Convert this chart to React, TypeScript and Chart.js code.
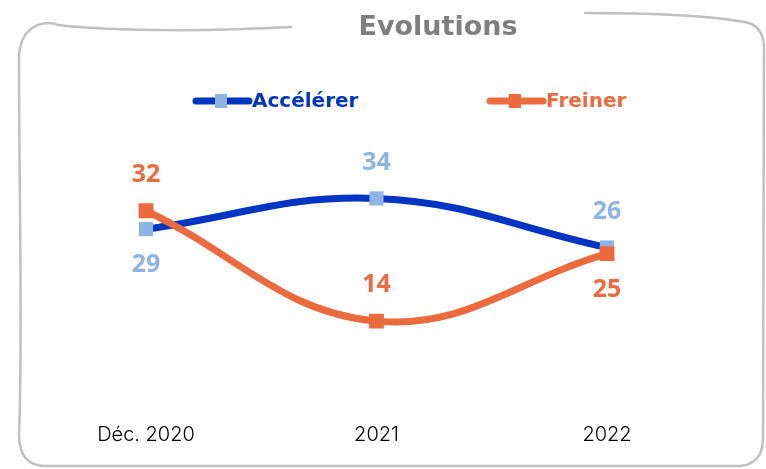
import React, { useEffect, useRef } from "react";
import { Chart, registerables } from "chart.js";

Chart.register(...registerables);

const categories = ["Déc. 2020", "2021", "2022"];
const accelererValues = [29, 34, 26];
const freinerValues = [32, 14, 25];
const seriesNames = ["Accélérer", "Freiner"];
const chartTitle = "Evolutions";

const BLUE_LINE = "#0035C4";
const BLUE_MARK = "#8DB4E3";
const ORANGE = "#EC6A3D";
const FRAME = "#C0C0C0";

// label placement per point (style only)
const accLabelSide = ["below", "above", "above"];
const freLabelSide = ["above", "above", "below"];

const framePlugin = {
  id: "frame",
  beforeDraw(chart: any) {
    const ctx = chart.ctx;
    ctx.save();
    ctx.fillStyle = "#ffffff";
    ctx.fillRect(0, 0, chart.width, chart.height);
    ctx.strokeStyle = FRAME;
    ctx.lineWidth = 2.5;
    ctx.lineCap = "round";
    ctx.lineJoin = "round";
    ctx.beginPath();
    ctx.moveTo(291, 27);
    ctx.bezierCurveTo(220, 31, 120, 32, 58, 25);
    ctx.bezierCurveTo(48, 20, 22, 22, 19, 55);
    ctx.bezierCurveTo(19, 200, 23, 330, 19, 436);
    ctx.quadraticCurveTo(20, 466, 45, 466);
    ctx.lineTo(740, 466);
    ctx.quadraticCurveTo(762, 464, 763, 440);
    ctx.lineTo(764, 45);
    ctx.quadraticCurveTo(762, 25, 745, 22);
    ctx.bezierCurveTo(700, 14, 640, 13, 585, 13);
    ctx.stroke();

    // title
    ctx.fillStyle = "#7F7F7F";
    ctx.font = "bold 27px 'DejaVu Sans'";
    ctx.textAlign = "center";
    ctx.textBaseline = "middle";
    ctx.fillText(chartTitle, 438, 28);
    ctx.restore();
  },
};

const legendPlugin = {
  id: "customLegend",
  afterDraw(chart: any) {
    const ctx = chart.ctx;
    const items = [
      { name: seriesNames[0], line: BLUE_LINE, mark: BLUE_MARK, x: 193 },
      { name: seriesNames[1], line: ORANGE, mark: ORANGE, x: 487 },
    ];
    const y = 101;
    ctx.save();
    items.forEach((it) => {
      ctx.strokeStyle = it.line;
      ctx.lineWidth = 7;
      ctx.lineCap = "round";
      ctx.beginPath();
      ctx.moveTo(it.x + 3, y);
      ctx.lineTo(it.x + 56, y);
      ctx.stroke();
      ctx.fillStyle = it.mark;
      ctx.fillRect(it.x + 22, y - 7, 12, 14);
      ctx.fillStyle = it.line;
      ctx.font = "bold 20px 'DejaVu Sans'";
      ctx.textAlign = "left";
      ctx.textBaseline = "middle";
      ctx.fillText(it.name, it.x + 59, y + 1);
    });
    ctx.restore();
  },
};

const dataLabelPlugin = {
  id: "pointLabels",
  afterDatasetsDraw(chart: any) {
    const ctx = chart.ctx;
    ctx.save();
    ctx.font = "bold 25px 'Open Sans'";
    ctx.textAlign = "center";
    ctx.textBaseline = "middle";
    chart.data.datasets.forEach((ds: any, di: number) => {
      const meta = chart.getDatasetMeta(di);
      meta.data.forEach((pt: any, i: number) => {
        const side = ds.labelSide[i];
        const dy = side === "above" ? -36 : 36;
        ctx.fillStyle = ds.labelColor;
        ctx.fillText(String(ds.data[i]), pt.x, pt.y + dy);
      });
    });
    ctx.restore();
  },
};

export default function App() {
  const ref = useRef<HTMLCanvasElement | null>(null);
  useEffect(() => {
    if (!ref.current) return;
    const chart = new Chart(ref.current, {
      type: "line",
      data: {
        labels: categories,
        datasets: [
          {
            label: seriesNames[1],
            data: freinerValues,
            borderColor: ORANGE,
            backgroundColor: ORANGE,
            borderWidth: 7,
            pointStyle: "rect",
            pointRadius: 10.5,
            pointBackgroundColor: ORANGE,
            pointBorderColor: ORANGE,
            pointBorderWidth: 0,
            tension: 0.4,
            fill: false,
            labelSide: freLabelSide,
            labelColor: ORANGE,
          } as any,
          {
            label: seriesNames[0],
            data: accelererValues,
            borderColor: BLUE_LINE,
            backgroundColor: BLUE_MARK,
            borderWidth: 7,
            pointStyle: "rect",
            pointRadius: 10,
            pointBackgroundColor: BLUE_MARK,
            pointBorderColor: BLUE_MARK,
            pointBorderWidth: 0,
            tension: 0.4,
            fill: false,
            labelSide: accLabelSide,
            labelColor: BLUE_MARK,
          } as any,
        ],
      },
      options: {
        responsive: false,
        animation: false,
        devicePixelRatio: 1,
        layout: { padding: { left: 146, right: 159, top: 131, bottom: 6 } },
        plugins: {
          legend: { display: false },
          title: { display: false },
          tooltip: { enabled: false },
        },
        scales: {
          x: {
            grid: { display: false, drawTicks: false },
            border: { display: false },
            ticks: {
              color: "#000000",
              padding: 16,
              font: { family: "Inter", size: 20, weight: "300" as any },
            },
          },
          y: {
            display: false,
            min: 0,
            max: 45,
          },
        },
      },
      plugins: [framePlugin, legendPlugin, dataLabelPlugin],
    });
    return () => chart.destroy();
  }, []);
  return (
    <div style={{ position: "fixed", left: 0, top: 0, width: 766, height: 469, background: "#fff" }}>
      <canvas ref={ref} width={766} height={469} />
    </div>
  );
}
